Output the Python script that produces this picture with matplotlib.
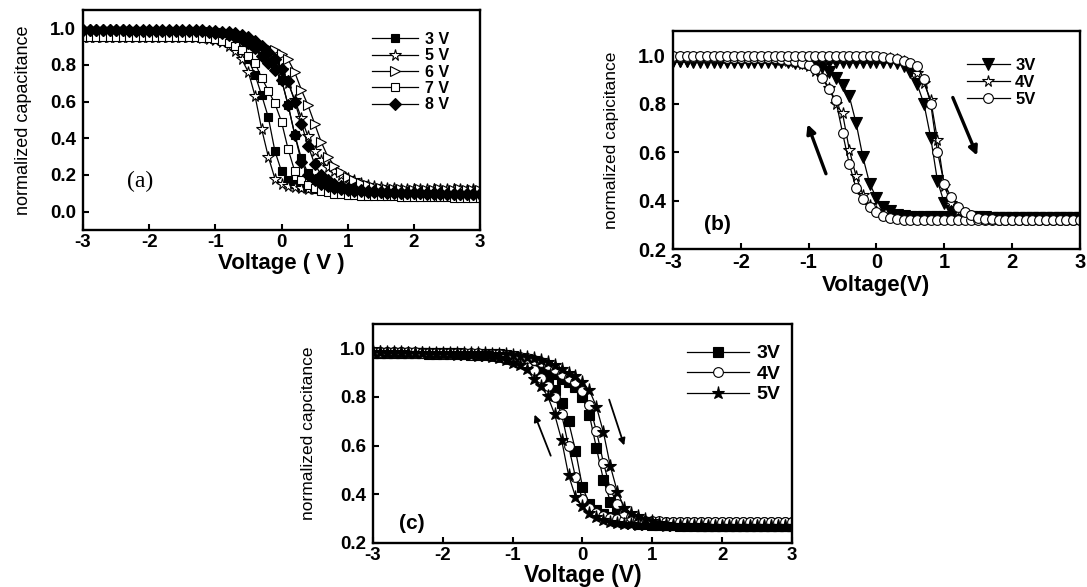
import matplotlib
matplotlib.use('Agg')
import matplotlib.pyplot as plt

# -------------------------------------------------------------
# Global look: bold Arial-like text, heavy frame, inward ticks
# -------------------------------------------------------------
plt.rcParams.update({
    'font.family': ['Liberation Sans', 'DejaVu Sans'],
    'font.weight': 'bold',
    'axes.labelweight': 'bold',
    'axes.unicode_minus': False,
    'axes.linewidth': 1.7,
    'xtick.direction': 'in',
    'ytick.direction': 'in',
    'xtick.major.width': 1.5,
    'ytick.major.width': 1.5,
    'xtick.major.size': 4,
    'ytick.major.size': 4,
})

# sweep voltage (V), shared by every curve
volts = [-3.0, -2.9, -2.8, -2.7, -2.6, -2.5, -2.4, -2.3, -2.2, -2.1,
         -2.0, -1.9, -1.8, -1.7, -1.6, -1.5, -1.4, -1.3, -1.2, -1.1,
         -1.0, -0.9, -0.8, -0.7, -0.6, -0.5, -0.4, -0.3, -0.2, -0.1,
         0.0, 0.1, 0.2, 0.3, 0.4, 0.5, 0.6, 0.7, 0.8, 0.9,
         1.0, 1.1, 1.2, 1.3, 1.4, 1.5, 1.6, 1.7, 1.8, 1.9,
         2.0, 2.1, 2.2, 2.3, 2.4, 2.5, 2.6, 2.7, 2.8, 2.9,
         3.0]

# ---------------- panel (a) ----------------
a3_down = [0.985, 0.985, 0.985, 0.985, 0.984, 0.984, 0.984, 0.983, 0.983, 0.983,
           0.982, 0.982, 0.982, 0.981, 0.981, 0.980, 0.980, 0.979, 0.977, 0.974,
           0.970, 0.960, 0.945, 0.920, 0.880, 0.830, 0.745, 0.635, 0.515, 0.330,
           0.220, 0.170, 0.150, 0.137, 0.128, 0.121, 0.116, 0.112, 0.110, 0.108,
           0.107, 0.106, 0.105, 0.104, 0.103, 0.103, 0.102, 0.102, 0.101, 0.101,
           0.100, 0.100, 0.100, 0.099, 0.099, 0.099, 0.098, 0.098, 0.098, 0.097,
           0.097]
a3_up = [0.988, 0.988, 0.988, 0.988, 0.988, 0.987, 0.987, 0.987, 0.987, 0.987,
         0.986, 0.986, 0.986, 0.986, 0.985, 0.985, 0.985, 0.984, 0.984, 0.982,
         0.980, 0.975, 0.970, 0.960, 0.948, 0.932, 0.910, 0.885, 0.850, 0.800,
         0.720, 0.580, 0.420, 0.290, 0.210, 0.170, 0.150, 0.135, 0.125, 0.120,
         0.115, 0.112, 0.110, 0.108, 0.107, 0.106, 0.105, 0.104, 0.103, 0.103,
         0.102, 0.102, 0.101, 0.101, 0.100, 0.100, 0.100, 0.099, 0.099, 0.099,
         0.098]
a5_down = [0.955, 0.955, 0.955, 0.955, 0.954, 0.954, 0.954, 0.954, 0.953, 0.953,
           0.953, 0.952, 0.952, 0.952, 0.951, 0.951, 0.950, 0.950, 0.948, 0.944,
           0.938, 0.925, 0.905, 0.875, 0.830, 0.760, 0.630, 0.450, 0.300, 0.180,
           0.150, 0.138, 0.132, 0.128, 0.125, 0.123, 0.122, 0.121, 0.120, 0.120,
           0.120, 0.121, 0.120, 0.120, 0.121, 0.120, 0.120, 0.121, 0.120, 0.120,
           0.121, 0.120, 0.120, 0.121, 0.120, 0.120, 0.121, 0.120, 0.120, 0.121,
           0.120]
a5_up = [0.960, 0.960, 0.960, 0.960, 0.960, 0.960, 0.959, 0.959, 0.959, 0.959,
         0.959, 0.959, 0.959, 0.958, 0.958, 0.958, 0.958, 0.958, 0.958, 0.955,
         0.950, 0.945, 0.940, 0.932, 0.922, 0.910, 0.895, 0.875, 0.850, 0.820,
         0.770, 0.700, 0.610, 0.510, 0.410, 0.330, 0.280, 0.245, 0.220, 0.200,
         0.185, 0.170, 0.158, 0.148, 0.140, 0.134, 0.130, 0.127, 0.125, 0.124,
         0.123, 0.123, 0.122, 0.122, 0.122, 0.121, 0.121, 0.121, 0.120, 0.120,
         0.120]
a6 = [0.955, 0.955, 0.954, 0.954, 0.954, 0.954, 0.954, 0.953, 0.953, 0.953,
      0.953, 0.953, 0.953, 0.953, 0.952, 0.952, 0.952, 0.952, 0.952, 0.950,
      0.948, 0.945, 0.940, 0.935, 0.930, 0.922, 0.915, 0.905, 0.895, 0.880,
      0.860, 0.830, 0.760, 0.665, 0.580, 0.480, 0.380, 0.300, 0.250, 0.215,
      0.190, 0.172, 0.158, 0.145, 0.135, 0.128, 0.124, 0.122, 0.121, 0.120,
      0.120, 0.121, 0.120, 0.120, 0.121, 0.120, 0.120, 0.121, 0.120, 0.120,
      0.120]
a7 = [0.955, 0.955, 0.955, 0.954, 0.954, 0.954, 0.954, 0.953, 0.953, 0.953,
      0.953, 0.952, 0.952, 0.952, 0.951, 0.951, 0.951, 0.950, 0.948, 0.945,
      0.940, 0.930, 0.920, 0.905, 0.880, 0.850, 0.810, 0.730, 0.660, 0.590,
      0.490, 0.340, 0.220, 0.170, 0.145, 0.128, 0.115, 0.105, 0.098, 0.095,
      0.092, 0.090, 0.088, 0.087, 0.086, 0.085, 0.084, 0.083, 0.082, 0.081,
      0.080, 0.080, 0.079, 0.079, 0.078, 0.078, 0.077, 0.077, 0.076, 0.076,
      0.075]
a8_down = [0.990, 0.990, 0.990, 0.989, 0.989, 0.989, 0.989, 0.988, 0.988, 0.988,
           0.988, 0.987, 0.987, 0.987, 0.986, 0.986, 0.986, 0.985, 0.983, 0.980,
           0.977, 0.972, 0.965, 0.955, 0.940, 0.920, 0.890, 0.850, 0.810, 0.770,
           0.720, 0.580, 0.420, 0.270, 0.200, 0.170, 0.152, 0.140, 0.130, 0.122,
           0.117, 0.113, 0.110, 0.108, 0.106, 0.105, 0.104, 0.103, 0.102, 0.101,
           0.100, 0.100, 0.099, 0.099, 0.098, 0.098, 0.097, 0.097, 0.096, 0.096,
           0.095]
a8_up = [0.992, 0.992, 0.992, 0.992, 0.991, 0.991, 0.991, 0.991, 0.991, 0.990,
         0.990, 0.990, 0.990, 0.990, 0.990, 0.990, 0.990, 0.990, 0.990, 0.988,
         0.985, 0.982, 0.978, 0.972, 0.962, 0.950, 0.930, 0.905, 0.870, 0.830,
         0.780, 0.710, 0.600, 0.480, 0.360, 0.260, 0.200, 0.170, 0.152, 0.140,
         0.130, 0.122, 0.117, 0.113, 0.110, 0.108, 0.106, 0.105, 0.104, 0.103,
         0.102, 0.101, 0.100, 0.100, 0.100, 0.099, 0.099, 0.098, 0.098, 0.098,
         0.097]

# ---------------- panel (b) ----------------
b3_down = [0.975, 0.975, 0.975, 0.974, 0.974, 0.974, 0.974, 0.973, 0.973, 0.973,
           0.973, 0.972, 0.972, 0.972, 0.971, 0.971, 0.970, 0.970, 0.969, 0.968,
           0.966, 0.962, 0.950, 0.930, 0.905, 0.875, 0.830, 0.720, 0.580, 0.470,
           0.410, 0.375, 0.355, 0.342, 0.336, 0.333, 0.332, 0.332, 0.331, 0.331,
           0.331, 0.330, 0.330, 0.330, 0.330, 0.330, 0.330, 0.330, 0.330, 0.330,
           0.330, 0.329, 0.330, 0.330, 0.329, 0.330, 0.330, 0.329, 0.330, 0.330,
           0.330]
b3_up = [0.977, 0.977, 0.977, 0.977, 0.977, 0.977, 0.976, 0.976, 0.976, 0.976,
         0.976, 0.976, 0.976, 0.976, 0.976, 0.976, 0.976, 0.975, 0.975, 0.975,
         0.975, 0.975, 0.975, 0.974, 0.974, 0.974, 0.974, 0.974, 0.974, 0.974,
         0.974, 0.973, 0.972, 0.969, 0.955, 0.930, 0.880, 0.800, 0.660, 0.480,
         0.390, 0.355, 0.338, 0.334, 0.332, 0.331, 0.331, 0.330, 0.330, 0.330,
         0.330, 0.329, 0.330, 0.330, 0.329, 0.330, 0.330, 0.329, 0.330, 0.330,
         0.330]
b4_down = [0.992, 0.992, 0.992, 0.991, 0.991, 0.991, 0.991, 0.990, 0.990, 0.990,
           0.990, 0.989, 0.989, 0.988, 0.987, 0.985, 0.982, 0.978, 0.972, 0.965,
           0.955, 0.935, 0.910, 0.865, 0.800, 0.760, 0.610, 0.500, 0.425, 0.380,
           0.355, 0.340, 0.333, 0.330, 0.329, 0.328, 0.328, 0.327, 0.327, 0.327,
           0.327, 0.326, 0.326, 0.326, 0.326, 0.326, 0.326, 0.326, 0.325, 0.325,
           0.325, 0.325, 0.325, 0.325, 0.325, 0.325, 0.325, 0.325, 0.325, 0.325,
           0.325]
b4_up = [0.993, 0.993, 0.992, 0.992, 0.992, 0.992, 0.992, 0.991, 0.991, 0.991,
         0.991, 0.991, 0.991, 0.991, 0.991, 0.991, 0.990, 0.990, 0.990, 0.990,
         0.990, 0.990, 0.990, 0.990, 0.989, 0.989, 0.989, 0.989, 0.989, 0.989,
         0.989, 0.989, 0.988, 0.985, 0.975, 0.958, 0.925, 0.885, 0.815, 0.650,
         0.460, 0.390, 0.358, 0.343, 0.335, 0.332, 0.330, 0.329, 0.328, 0.328,
         0.327, 0.327, 0.327, 0.326, 0.326, 0.326, 0.326, 0.325, 0.325, 0.325,
         0.325]
b5_down = [0.993, 0.993, 0.992, 0.992, 0.992, 0.991, 0.991, 0.991, 0.990, 0.990,
           0.990, 0.990, 0.989, 0.989, 0.988, 0.987, 0.984, 0.980, 0.975, 0.968,
           0.958, 0.943, 0.905, 0.860, 0.815, 0.680, 0.550, 0.450, 0.405, 0.375,
           0.352, 0.335, 0.326, 0.322, 0.321, 0.320, 0.320, 0.320, 0.320, 0.320,
           0.320, 0.320, 0.319, 0.319, 0.319, 0.319, 0.319, 0.319, 0.319, 0.319,
           0.319, 0.319, 0.319, 0.319, 0.319, 0.319, 0.319, 0.319, 0.319, 0.319,
           0.319]
b5_up = [0.998, 0.998, 0.997, 0.997, 0.997, 0.997, 0.997, 0.997, 0.996, 0.996,
         0.996, 0.996, 0.996, 0.996, 0.996, 0.996, 0.996, 0.996, 0.996, 0.996,
         0.996, 0.996, 0.996, 0.996, 0.996, 0.995, 0.995, 0.995, 0.995, 0.995,
         0.995, 0.994, 0.990, 0.985, 0.978, 0.968, 0.955, 0.900, 0.800, 0.600,
         0.470, 0.415, 0.375, 0.352, 0.340, 0.330, 0.325, 0.322, 0.321, 0.320,
         0.320, 0.320, 0.320, 0.320, 0.320, 0.320, 0.320, 0.320, 0.320, 0.320,
         0.320]

# ---------------- panel (c) ----------------
c3_down = [0.982, 0.982, 0.981, 0.981, 0.980, 0.980, 0.979, 0.979, 0.978, 0.978,
           0.977, 0.977, 0.976, 0.975, 0.974, 0.973, 0.972, 0.971, 0.970, 0.966,
           0.960, 0.952, 0.940, 0.922, 0.900, 0.868, 0.827, 0.775, 0.700, 0.580,
           0.430, 0.360, 0.335, 0.318, 0.305, 0.296, 0.290, 0.285, 0.280, 0.277,
           0.275, 0.273, 0.272, 0.272, 0.271, 0.271, 0.271, 0.270, 0.270, 0.270,
           0.270, 0.270, 0.270, 0.270, 0.270, 0.270, 0.270, 0.270, 0.270, 0.270,
           0.270]
c3_up = [0.982, 0.982, 0.982, 0.981, 0.981, 0.981, 0.980, 0.980, 0.980, 0.980,
         0.979, 0.979, 0.979, 0.978, 0.978, 0.978, 0.977, 0.977, 0.975, 0.972,
         0.968, 0.962, 0.955, 0.945, 0.930, 0.912, 0.893, 0.875, 0.860, 0.840,
         0.800, 0.725, 0.590, 0.460, 0.370, 0.330, 0.310, 0.297, 0.288, 0.283,
         0.280, 0.277, 0.275, 0.274, 0.273, 0.272, 0.272, 0.271, 0.271, 0.271,
         0.270, 0.270, 0.270, 0.270, 0.270, 0.270, 0.270, 0.270, 0.270, 0.270,
         0.270]
c4_down = [0.985, 0.984, 0.984, 0.983, 0.983, 0.982, 0.981, 0.981, 0.980, 0.979,
           0.978, 0.977, 0.976, 0.975, 0.974, 0.973, 0.971, 0.969, 0.965, 0.958,
           0.950, 0.940, 0.928, 0.912, 0.880, 0.845, 0.800, 0.730, 0.600, 0.470,
           0.380, 0.345, 0.325, 0.312, 0.303, 0.297, 0.293, 0.290, 0.288, 0.287,
           0.287, 0.288, 0.287, 0.287, 0.288, 0.287, 0.288, 0.287, 0.287, 0.288,
           0.288, 0.287, 0.288, 0.288, 0.287, 0.288, 0.288, 0.287, 0.288, 0.288,
           0.288]
c4_up = [0.985, 0.985, 0.984, 0.984, 0.983, 0.983, 0.983, 0.982, 0.982, 0.982,
         0.981, 0.981, 0.980, 0.980, 0.979, 0.979, 0.978, 0.977, 0.975, 0.973,
         0.970, 0.966, 0.960, 0.952, 0.942, 0.930, 0.915, 0.895, 0.878, 0.860,
         0.825, 0.765, 0.660, 0.530, 0.420, 0.360, 0.325, 0.308, 0.298, 0.292,
         0.290, 0.289, 0.288, 0.288, 0.288, 0.288, 0.288, 0.288, 0.288, 0.288,
         0.288, 0.288, 0.288, 0.288, 0.288, 0.288, 0.288, 0.288, 0.288, 0.288,
         0.288]
c5_down = [0.983, 0.983, 0.982, 0.982, 0.981, 0.980, 0.980, 0.979, 0.978, 0.977,
           0.976, 0.975, 0.974, 0.973, 0.972, 0.970, 0.968, 0.965, 0.960, 0.950,
           0.940, 0.930, 0.915, 0.875, 0.845, 0.805, 0.730, 0.625, 0.480, 0.390,
           0.350, 0.323, 0.305, 0.295, 0.288, 0.283, 0.279, 0.276, 0.274, 0.273,
           0.272, 0.272, 0.271, 0.271, 0.271, 0.270, 0.270, 0.270, 0.270, 0.270,
           0.270, 0.270, 0.270, 0.270, 0.270, 0.270, 0.270, 0.270, 0.270, 0.270,
           0.270]
c5_up = [0.984, 0.984, 0.983, 0.983, 0.983, 0.982, 0.982, 0.982, 0.981, 0.981,
         0.981, 0.980, 0.980, 0.980, 0.979, 0.979, 0.979, 0.978, 0.978, 0.976,
         0.973, 0.970, 0.966, 0.960, 0.952, 0.943, 0.930, 0.915, 0.900, 0.888,
         0.860, 0.827, 0.760, 0.655, 0.515, 0.410, 0.345, 0.322, 0.310, 0.300,
         0.290, 0.282, 0.278, 0.275, 0.274, 0.273, 0.272, 0.272, 0.271, 0.271,
         0.270, 0.270, 0.270, 0.270, 0.270, 0.270, 0.270, 0.270, 0.270, 0.270,
         0.270]


def draw(ax, branches, marker, ms, filled, label):
    # every sweep direction of one amplitude gets the same marker
    for k, ys in enumerate(branches):
        ax.plot(volts, ys, color='black', lw=0.9, marker=marker, ms=ms,
                mfc='black' if filled else 'white', mec='black', mew=0.8,
                label=label if k == 0 else None)


def frame(ax, ylo, yticks, size):
    ax.set_xlim(-3, 3)
    ax.set_ylim(ylo, 1.1)
    ax.set_xticks([-3, -2, -1, 0, 1, 2, 3])
    ax.set_yticks(yticks)
    ax.set_yticklabels(['%.1f' % t for t in yticks])
    ax.tick_params(top=False, right=False, labelsize=size)
    ax.tick_params(axis='y', pad=5)
    ax.tick_params(axis='x', pad=3)


fig = plt.figure(figsize=(10.87, 5.87), dpi=100)

# -------------------------------------------------------------
# (a)
# -------------------------------------------------------------
ax_a = fig.add_axes([0.0764, 0.6082, 0.3652, 0.3748])
draw(ax_a, [a3_down, a3_up], 's', 6, True, '3 V')
draw(ax_a, [a5_down, a5_up], '*', 8.5, False, '5 V')
draw(ax_a, [a6], '>', 7.5, False, '6 V')
draw(ax_a, [a7], 's', 6, False, '7 V')
draw(ax_a, [a8_down, a8_up], 'D', 6, True, '8 V')
frame(ax_a, -0.1, [0.0, 0.2, 0.4, 0.6, 0.8, 1.0], 13.5)
ax_a.set_xlabel('Voltage ( V )', fontsize=16, labelpad=1)
ax_a.set_ylabel('normalized capacitance', fontweight='normal',
                fontsize=13, labelpad=13)
ax_a.text(-2.13, 0.165, '(a)', family=['Liberation Serif', 'DejaVu Serif'],
          fontweight='normal', fontsize=17, ha='center', va='center')
ax_a.legend(loc='upper left', bbox_to_anchor=(0.728, 0.90), frameon=False,
            handlelength=2.9, handletextpad=0.4, labelspacing=0.08,
            borderpad=0, borderaxespad=0,
            prop={'weight': 'bold', 'size': 11.5})

# -------------------------------------------------------------
# (b)
# -------------------------------------------------------------
ax_b = fig.add_axes([0.6191, 0.5758, 0.3744, 0.3714])
draw(ax_b, [b3_down, b3_up], 'v', 8, True, '3V')
draw(ax_b, [b4_down, b4_up], '*', 8.5, False, '4V')
draw(ax_b, [b5_down, b5_up], 'o', 7, False, '5V')
frame(ax_b, 0.2, [0.2, 0.4, 0.6, 0.8, 1.0], 14.5)
ax_b.set_xlabel('Voltage(V)', fontsize=16, labelpad=2)
ax_b.set_ylabel('normalized capicitance', fontweight='normal',
                fontsize=12.5, labelpad=14)
ax_b.text(-2.34, 0.30, '(b)', fontsize=15, ha='center', va='center')
ax_b.annotate('', xy=(-1.03, 0.726), xytext=(-0.73, 0.50),
              arrowprops=dict(arrowstyle='-|>', color='black', lw=2.4,
                              mutation_scale=13))
ax_b.annotate('', xy=(1.50, 0.575), xytext=(1.11, 0.836),
              arrowprops=dict(arrowstyle='-|>', color='black', lw=2.4,
                              mutation_scale=13))
ax_b.legend(loc='upper left', bbox_to_anchor=(0.722, 0.875), frameon=False,
            handlelength=2.6, handletextpad=0.3, labelspacing=0.12,
            borderpad=0, borderaxespad=0,
            prop={'weight': 'bold', 'size': 12})

# -------------------------------------------------------------
# (c)
# -------------------------------------------------------------
ax_c = fig.add_axes([0.3431, 0.0750, 0.3855, 0.3731])
draw(ax_c, [c3_down, c3_up], 's', 6.5, True, '3V')
draw(ax_c, [c4_down, c4_up], 'o', 7, False, '4V')
draw(ax_c, [c5_down, c5_up], '*', 9.5, True, '5V')
frame(ax_c, 0.2, [0.2, 0.4, 0.6, 0.8, 1.0], 13.5)
ax_c.set_xlabel('Voltage (V)', fontsize=16.5, labelpad=0)
ax_c.set_ylabel('normalized capcitance', fontweight='normal',
                fontsize=12.5, labelpad=17)
ax_c.text(-2.44, 0.28, '(c)', fontsize=15, ha='center', va='center')
ax_c.annotate('', xy=(-0.70, 0.738), xytext=(-0.44, 0.548),
              arrowprops=dict(arrowstyle='-|>', color='black', lw=1.3,
                              mutation_scale=10))
ax_c.annotate('', xy=(0.61, 0.59), xytext=(0.37, 0.80),
              arrowprops=dict(arrowstyle='-|>', color='black', lw=1.3,
                              mutation_scale=10))
ax_c.legend(loc='upper left', bbox_to_anchor=(0.749, 0.905), frameon=False,
            handlelength=3.2, handletextpad=0.4, labelspacing=0.15,
            borderpad=0, borderaxespad=0,
            prop={'weight': 'bold', 'size': 14})

fig.savefig('out.png', dpi=100)
